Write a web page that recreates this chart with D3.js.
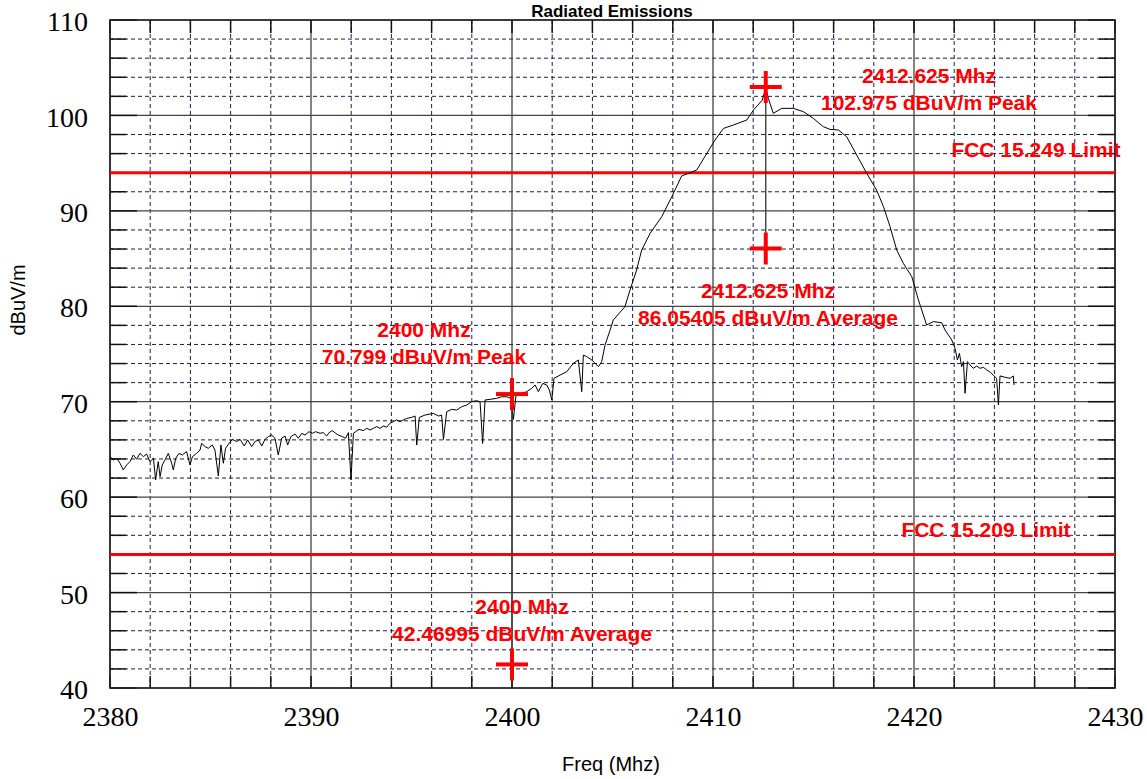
<!DOCTYPE html>
<html>
<head>
<meta charset="utf-8">
<script src="https://cdn.jsdelivr.net/npm/d3@7"></script>
<style>
  html, body { margin: 0; padding: 0; background: #fff; }
  svg { display: block; }
  .serif text { font-family: "Liberation Serif", "Times New Roman", Times, serif; }
</style>
</head>
<body>
<svg id="chart" width="1147" height="779"></svg>
<script>
// trace (MHz, dBuV/m)
const freqs = [
  2380.00, 2380.17, 2380.33, 2380.50, 2380.66, 2380.83, 2380.99, 2381.16, 2381.33, 2381.49,
  2381.66, 2381.82, 2381.99, 2382.16, 2382.27, 2382.40, 2382.49, 2382.60, 2382.74, 2382.90,
  2383.07, 2383.15, 2383.27, 2383.43, 2383.60, 2383.81, 2383.98, 2384.10, 2384.31, 2384.48,
  2384.56, 2384.73, 2384.89, 2385.09, 2385.22, 2385.39, 2385.52, 2385.64, 2385.75, 2385.92,
  2386.09, 2386.30, 2386.47, 2386.68, 2386.85, 2387.05, 2387.21, 2387.38, 2387.55, 2387.71,
  2387.88, 2388.04, 2388.21, 2388.37, 2388.54, 2388.71, 2388.84, 2389.00, 2389.20, 2389.37,
  2389.54, 2389.70, 2389.90, 2390.07, 2390.23, 2390.45, 2390.61, 2390.78, 2390.90, 2391.06,
  2391.23, 2391.36, 2391.56, 2391.72, 2391.86, 2391.99, 2392.11, 2392.22, 2392.39, 2392.60,
  2392.77, 2392.94, 2393.10, 2393.27, 2393.43, 2393.60, 2393.76, 2393.93, 2394.10, 2394.26,
  2394.43, 2394.59, 2394.76, 2395.01, 2395.18, 2395.26, 2395.39, 2395.67, 2396.09, 2396.34,
  2396.50, 2396.59, 2396.75, 2397.00, 2397.25, 2397.50, 2397.75, 2397.99, 2398.24, 2398.41,
  2398.54, 2398.66, 2398.91, 2399.24, 2399.49, 2399.74, 2399.94, 2400.07, 2400.20, 2400.48,
  2400.73, 2400.98, 2401.15, 2401.31, 2401.53, 2401.73, 2401.86, 2401.98, 2402.09, 2402.39,
  2402.72, 2403.05, 2403.30, 2403.47, 2403.55, 2403.72, 2403.97, 2404.30, 2404.46, 2404.63,
  2404.88, 2405.04, 2405.62, 2405.87, 2406.20, 2406.45, 2406.87, 2407.45, 2407.95, 2408.44,
  2409.19, 2409.69, 2410.10, 2410.52, 2411.01, 2411.68, 2412.01, 2412.45, 2412.625, 2412.75,
  2413.00, 2413.42, 2414.00, 2414.50, 2414.99, 2415.49, 2415.82, 2416.24, 2416.65, 2417.15,
  2417.65, 2418.14, 2418.48, 2418.81, 2419.14, 2419.47, 2419.89, 2420.22, 2420.63, 2420.96,
  2421.38, 2421.54, 2421.88, 2422.04, 2422.16, 2422.26, 2422.37, 2422.46, 2422.54, 2422.66,
  2422.79, 2422.95, 2423.12, 2423.29, 2423.45, 2423.62, 2423.82, 2423.98, 2424.11, 2424.20,
  2424.28, 2424.53, 2424.78, 2424.94, 2424.98
];
const levels = [
  64.24, 63.90, 64.07, 63.55, 62.85, 63.37, 63.72, 64.42, 63.97, 64.59,
  64.24, 64.52, 63.72, 64.07, 61.80, 63.72, 62.15, 63.37, 63.90, 64.59,
  63.55, 62.85, 64.07, 64.59, 64.42, 64.77, 63.37, 64.24, 64.59, 64.94,
  65.64, 65.29, 65.12, 65.47, 64.94, 62.22, 65.47, 63.55, 65.12, 65.64,
  66.06, 65.82, 66.06, 65.36, 65.99, 65.29, 65.82, 65.99, 65.36, 66.06,
  66.34, 66.51, 66.17, 64.42, 66.17, 66.41, 65.47, 66.34, 66.62, 66.17,
  66.69, 66.51, 66.86, 66.69, 66.86, 66.69, 66.76, 66.41, 66.76, 66.97,
  66.69, 66.51, 66.34, 66.17, 66.76, 61.80, 66.69, 66.86, 67.11, 66.97,
  67.21, 67.04, 67.21, 67.39, 67.21, 67.46, 67.32, 67.74, 67.91, 68.09,
  67.91, 68.09, 68.25, 68.36, 68.50, 65.46, 68.36, 68.60, 68.78, 68.50,
  68.60, 66.05, 68.95, 69.20, 69.13, 69.48, 69.65, 70.00, 70.11, 70.00,
  65.63, 70.18, 70.25, 70.35, 70.52, 70.52, 70.35, 68.15, 70.70, 70.87,
  71.05, 71.40, 71.75, 71.05, 71.92, 71.75, 71.22, 70.18, 72.45, 72.79,
  73.14, 74.02, 74.37, 71.05, 74.89, 74.72, 74.37, 73.67, 74.19, 75.94,
  77.51, 78.56, 79.96, 81.70, 83.80, 85.89, 87.64, 89.39, 91.48, 93.65,
  94.28, 96.02, 97.42, 98.64, 98.99, 99.52, 100.56, 101.60, 102.90, 101.80,
  100.22, 100.74, 100.74, 100.39, 99.69, 98.82, 98.54, 98.47, 97.77, 95.85,
  93.93, 92.18, 90.44, 88.34, 85.89, 84.50, 83.10, 80.66, 78.04, 78.39,
  78.28, 77.52, 76.47, 75.60, 74.37, 75.07, 73.67, 74.20, 70.88, 74.20,
  73.85, 73.50, 73.74, 73.50, 73.60, 73.33, 73.05, 72.70, 72.45, 69.66,
  72.70, 72.56, 72.45, 72.70, 71.75
];

const freqTicks = [2380, 2390, 2400, 2410, 2420, 2430];
const levelTicks = [40, 50, 60, 70, 80, 90, 100, 110];

// limit lines
const limitNames = ["FCC 15.249 Limit", "FCC 15.209 Limit"];
const limitLevels = [94, 54];

// markers: peak / average pairs
const markerFreqs = [2412.625, 2412.625, 2400, 2400];
const markerLevels = [102.975, 86.05405, 70.799, 42.46995];
const markerKinds = ["Peak", "Average", "Peak", "Average"];

const plot = { left: 110, right: 1115, top: 20, bottom: 688 };
const red = "#ff0000";
const sans = "'Liberation Sans', Arial, sans-serif";

const svg = d3.select("#chart");

const x = d3.scaleLinear().domain([2380, 2430]).range([plot.left, plot.right]);
const y = d3.scaleLinear().domain([40, 110]).range([plot.bottom, plot.top]);

const minorX = d3.range(2380, 2431, 2);
const minorY = d3.range(40, 111, 2);

const grid = svg.append("g").attr("class", "grid");

// dashed minor grid
grid.selectAll("line.vminor")
    .data(minorX.filter(d => d % 10 !== 0))
    .join("line")
    .attr("x1", d => x(d)).attr("x2", d => x(d))
    .attr("y1", plot.top).attr("y2", plot.bottom)
    .attr("stroke", "#1c1c52")
    .attr("stroke-width", 1)
    .attr("stroke-dasharray", "4,3");

grid.selectAll("line.hminor")
    .data(minorY.filter(d => d % 10 !== 0))
    .join("line")
    .attr("x1", plot.left).attr("x2", plot.right)
    .attr("y1", d => y(d)).attr("y2", d => y(d))
    .attr("stroke", "#1c1c52")
    .attr("stroke-width", 1)
    .attr("stroke-dasharray", "4,3");

// solid major grid
grid.selectAll("line.vmajor")
    .data(freqTicks)
    .join("line")
    .attr("x1", d => x(d)).attr("x2", d => x(d))
    .attr("y1", plot.top).attr("y2", plot.bottom)
    .attr("stroke", "#333")
    .attr("stroke-width", 1.2);

grid.selectAll("line.hmajor")
    .data(levelTicks)
    .join("line")
    .attr("x1", plot.left).attr("x2", plot.right)
    .attr("y1", d => y(d)).attr("y2", d => y(d))
    .attr("stroke", "#444")
    .attr("stroke-width", 1.2);

// short solid ticks on all four sides
const ticks = svg.append("g").attr("stroke", "#111").attr("stroke-width", 1.5);
minorX.forEach(d => {
    ticks.append("line").attr("x1", x(d)).attr("x2", x(d)).attr("y1", plot.bottom).attr("y2", plot.bottom - 12);
    ticks.append("line").attr("x1", x(d)).attr("x2", x(d)).attr("y1", plot.top).attr("y2", plot.top + 13);
});
minorY.forEach(d => {
    const len = d % 10 === 0 ? 27 : 16;
    ticks.append("line").attr("x1", plot.left).attr("x2", plot.left + len).attr("y1", y(d)).attr("y2", y(d));
    ticks.append("line").attr("x1", plot.right).attr("x2", plot.right - len).attr("y1", y(d)).attr("y2", y(d));
});

// frame
svg.append("rect")
    .attr("x", plot.left).attr("y", plot.top)
    .attr("width", plot.right - plot.left).attr("height", plot.bottom - plot.top)
    .attr("fill", "none")
    .attr("stroke", "#222")
    .attr("stroke-width", 1.6);

// tick labels through d3 axes
const xAxis = svg.append("g")
    .attr("class", "serif")
    .attr("transform", `translate(0,${plot.bottom})`)
    .call(d3.axisBottom(x).tickValues(freqTicks).tickSize(0).tickPadding(18).tickFormat(d3.format("d")));
xAxis.select(".domain").remove();
xAxis.attr("font-family", null);
xAxis.selectAll("text")
    .style("font-size", "28px")
    .attr("fill", "#000");

const yAxis = svg.append("g")
    .attr("class", "serif")
    .attr("transform", `translate(${plot.left},0)`)
    .call(d3.axisLeft(y).tickValues(levelTicks).tickSize(0).tickPadding(22));
yAxis.select(".domain").remove();
yAxis.attr("font-family", null);
yAxis.selectAll("text")
    .style("font-size", "28px")
    .attr("dy", "0.38em")
    .attr("fill", "#000");

// titles
svg.append("text")
    .attr("x", 612).attr("y", 17)
    .attr("text-anchor", "middle")
    .attr("font-family", sans)
    .attr("font-weight", "bold")
    .attr("font-size", 17)
    .text("Radiated Emissions");

svg.append("text")
    .attr("x", 611).attr("y", 771)
    .attr("text-anchor", "middle")
    .attr("font-family", sans)
    .attr("font-size", 20)
    .text("Freq (Mhz)");

svg.append("text")
    .attr("transform", "translate(25,300) rotate(-90)")
    .attr("text-anchor", "middle")
    .attr("font-family", sans)
    .attr("font-size", 20)
    .text("dBuV/m");

// limit lines
svg.selectAll("line.limit")
    .data(limitLevels)
    .join("line")
    .attr("class", "limit")
    .attr("x1", plot.left).attr("x2", plot.right)
    .attr("y1", d => y(d)).attr("y2", d => y(d))
    .attr("stroke", red)
    .attr("stroke-width", 3);

// trace
const points = freqs.map((f, i) => [f, levels[i]]);
svg.append("path")
    .datum(points)
    .attr("fill", "none")
    .attr("stroke", "#000")
    .attr("stroke-width", 1)
    .attr("stroke-linejoin", "round")
    .attr("d", d3.line().x(d => x(d[0])).y(d => y(d[1])));

// connector between peak and average marker
for (let i = 0; i < markerFreqs.length; i += 2) {
    svg.append("line")
        .attr("x1", x(markerFreqs[i])).attr("x2", x(markerFreqs[i + 1]))
        .attr("y1", y(markerLevels[i])).attr("y2", y(markerLevels[i + 1]))
        .attr("stroke", "#333")
        .attr("stroke-width", 1.3);
}

// crosses
const arm = 16;
const crosses = svg.selectAll("g.cross")
    .data(markerFreqs.map((f, i) => [f, markerLevels[i]]))
    .join("g")
    .attr("transform", d => `translate(${x(d[0])},${y(d[1])})`)
    .attr("stroke", red)
    .attr("stroke-width", 4);
crosses.append("line").attr("x1", -arm).attr("x2", arm);
crosses.append("line").attr("y1", -arm).attr("y2", arm);

// annotation text
function addLabel(cx, baseline, txt) {
    svg.append("text")
        .attr("x", cx).attr("y", baseline)
        .attr("text-anchor", "middle")
        .attr("font-family", sans)
        .attr("font-weight", "bold")
        .attr("font-size", 21)
        .attr("fill", red)
        .text(txt);
}

const markerLabelPos = [[929, 83], [768, 298], [424, 337], [522, 614]];
markerFreqs.forEach((f, i) => {
    const [cx, by] = markerLabelPos[i];
    addLabel(cx, by, `${f} Mhz`);
    addLabel(cx, by + 27, `${markerLevels[i]} dBuV/m ${markerKinds[i]}`);
});

const limitLabelPos = [[1036, 157], [986, 537]];
limitNames.forEach((name, i) => addLabel(limitLabelPos[i][0], limitLabelPos[i][1], name));
</script>
</body>
</html>
